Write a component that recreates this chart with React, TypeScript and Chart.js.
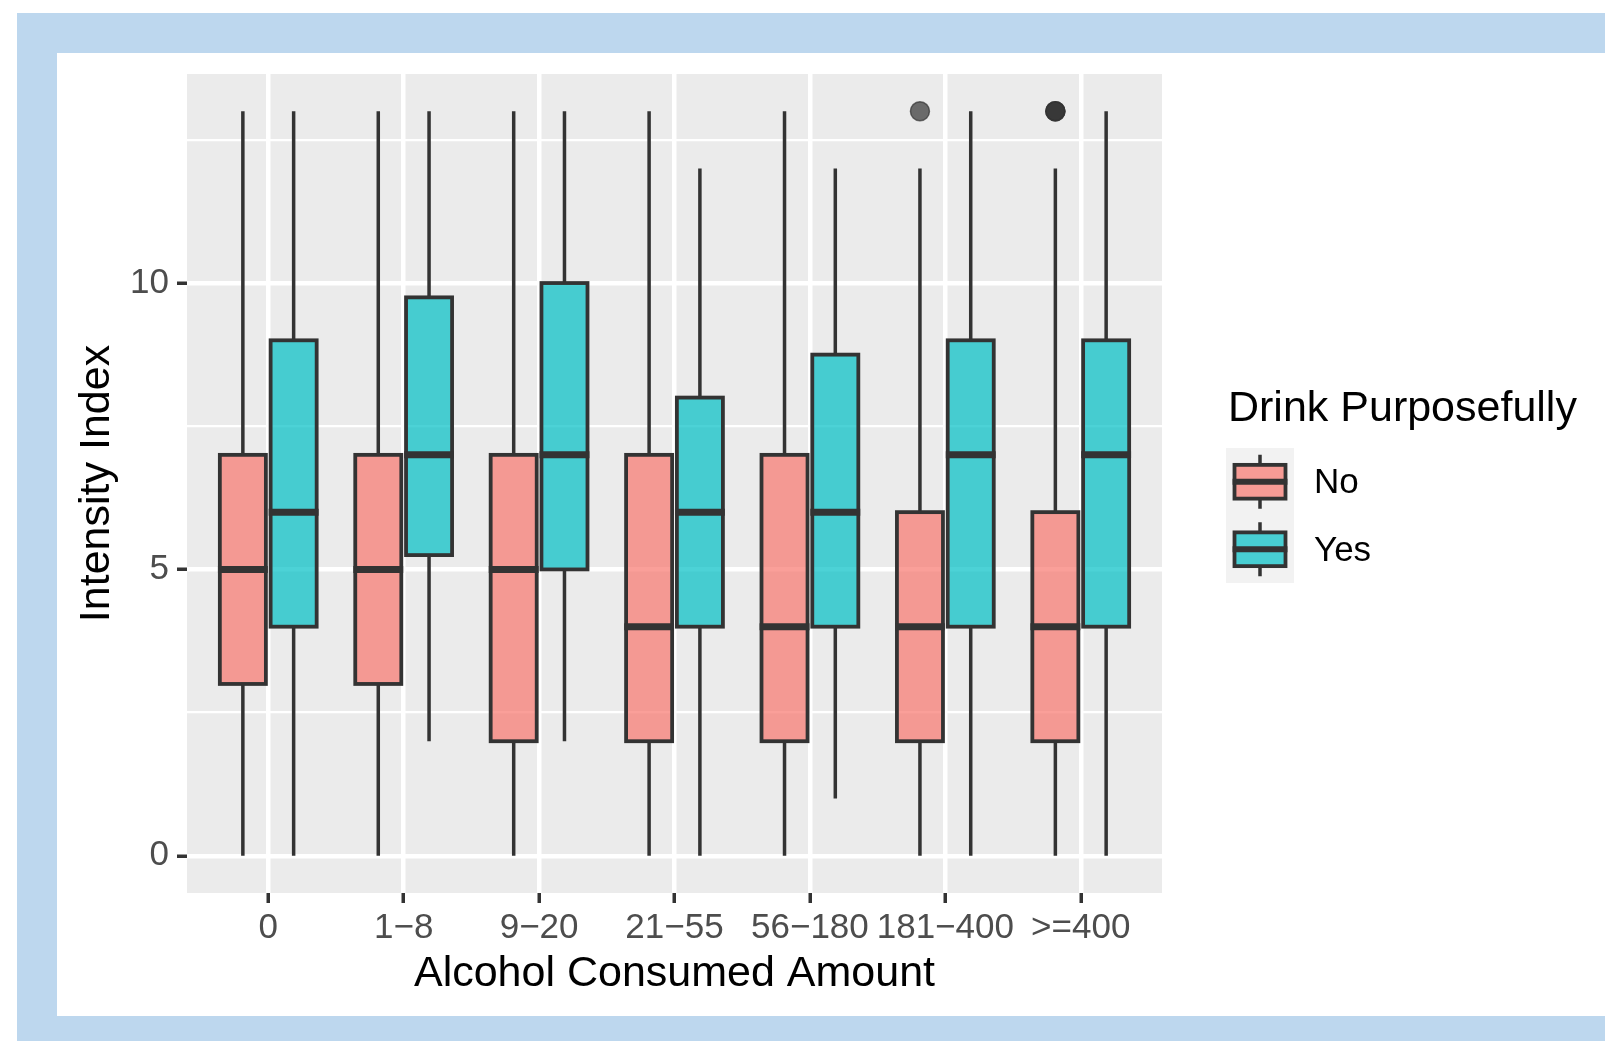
import { useEffect, useRef } from "react";
import { Chart, registerables } from "chart.js";

Chart.register(...registerables);

// Alcohol consumption bands on the x axis
const categories = ["0", "1−8", "9−20", "21−55", "56−180", "181−400", ">=400"];
const groups = ["No", "Yes"];

// Five-number summaries, "No" group
const noMin = [0, 0, 0, 0, 0, 0, 0];
const noQ1 = [3, 3, 2, 2, 2, 2, 2];
const noMedian = [5, 5, 5, 4, 4, 4, 4];
const noQ3 = [7, 7, 7, 7, 7, 6, 6];
const noMax = [13, 13, 13, 13, 13, 12, 12];

// Five-number summaries, "Yes" group
const yesMin = [0, 2, 2, 0, 1, 0, 0];
const yesQ1 = [4, 5.25, 5, 4, 4, 4, 4];
const yesMedian = [6, 7, 7, 6, 6, 7, 7];
const yesQ3 = [9, 9.75, 10, 8, 8.75, 9, 9];
const yesMax = [13, 13, 13, 12, 12, 13, 13];

// Outlying observations of the "No" group (overlapping points stack up darker)
const noOutlierCategory = ["181−400", ">=400", ">=400", ">=400"];
const noOutlierValue = [13, 13, 13, 13];

const yMajorTicks = [0, 5, 10];
const yMinorTicks = [2.5, 7.5, 12.5];

const FONT = "'Liberation Sans', Arial, Helvetica, sans-serif";
const PANEL = "#EBEBEB";
const LINE = "#333333";
const FILLS = ["rgba(248,118,109,0.7)", "rgba(0,191,196,0.7)"];
const DODGE = 0.375; // spacing between the two boxes of a category
const BOX_W = 0.34; // drawn width of each box, category units
const BOX_LW = 3.8;
const MEDIAN_LW = 7;
const WHISKER_LW = 3.5;
const TEXT_SIZE = 35;
const TITLE_SIZE = 43;

const series = [
  { min: noMin, q1: noQ1, med: noMedian, q3: noQ3, max: noMax },
  { min: yesMin, q1: yesQ1, med: yesMedian, q3: yesQ3, max: yesMax },
];

const groupOffset = (gi: number) => (gi - (groups.length - 1) / 2) * DODGE;

function drawBox(
  ctx: CanvasRenderingContext2D,
  left: number,
  right: number,
  yMin: number,
  yQ1: number,
  yMed: number,
  yQ3: number,
  yMax: number,
  fill: string,
  boxLw: number,
  medLw: number,
  whiskerLw: number
) {
  const cx = (left + right) / 2;
  ctx.strokeStyle = LINE;
  ctx.lineCap = "butt";
  ctx.lineWidth = whiskerLw;
  ctx.beginPath();
  ctx.moveTo(cx, yQ3);
  ctx.lineTo(cx, yMax);
  ctx.moveTo(cx, yQ1);
  ctx.lineTo(cx, yMin);
  ctx.stroke();

  ctx.fillStyle = fill;
  ctx.fillRect(left, yQ3, right - left, yQ1 - yQ3);
  ctx.lineWidth = boxLw;
  ctx.strokeRect(left, yQ3, right - left, yQ1 - yQ3);

  ctx.lineWidth = medLw;
  ctx.beginPath();
  ctx.moveTo(left - boxLw / 2, yMed);
  ctx.lineTo(right + boxLw / 2, yMed);
  ctx.stroke();
}

const boxPlugin = {
  id: "boxplots",
  beforeDraw(chart: any) {
    const { ctx, chartArea: a } = chart;
    ctx.save();
    ctx.fillStyle = PANEL;
    ctx.fillRect(a.left, a.top, a.right - a.left, a.bottom - a.top);
    ctx.restore();
  },
  beforeDatasetsDraw(chart: any) {
    const { ctx } = chart;
    const xs = chart.scales.x;
    const ys = chart.scales.y;
    ctx.save();
    series.forEach((s, gi) => {
      const off = groupOffset(gi);
      categories.forEach((_, i) => {
        const c = i + 1 + off;
        const left = xs.getPixelForValue(c - BOX_W / 2);
        const right = xs.getPixelForValue(c + BOX_W / 2);
        drawBox(
          ctx,
          left,
          right,
          ys.getPixelForValue(s.min[i]),
          ys.getPixelForValue(s.q1[i]),
          ys.getPixelForValue(s.med[i]),
          ys.getPixelForValue(s.q3[i]),
          ys.getPixelForValue(s.max[i]),
          FILLS[gi],
          BOX_LW,
          MEDIAN_LW,
          WHISKER_LW
        );
      });
    });
    ctx.restore();
  },
  afterDraw(chart: any) {
    // Legend: title, key glyphs and labels
    const { ctx } = chart;
    const keyX = 1169;
    const keyY = 395;
    const keyW = 68;
    const keyH = 67.5;
    ctx.save();
    ctx.fillStyle = "#000000";
    ctx.font = `${TITLE_SIZE}px ${FONT}`;
    ctx.textAlign = "left";
    ctx.textBaseline = "alphabetic";
    ctx.fillText("Drink Purposefully", 1171, 368);

    ctx.fillStyle = "#F2F2F2";
    ctx.fillRect(keyX, keyY, keyW, keyH * groups.length);

    groups.forEach((g, gi) => {
      const top = keyY + gi * keyH;
      drawBox(
        ctx,
        keyX + keyW * 0.125,
        keyX + keyW * 0.875,
        top + keyH * 0.9,
        top + keyH * 0.75,
        top + keyH * 0.5,
        top + keyH * 0.25,
        top + keyH * 0.1,
        FILLS[gi],
        BOX_LW,
        MEDIAN_LW * 0.85,
        WHISKER_LW
      );
      ctx.fillStyle = "#000000";
      ctx.font = `${TEXT_SIZE}px ${FONT}`;
      ctx.textBaseline = "middle";
      ctx.fillText(g, 1257, top + keyH / 2 + 2);
    });
    ctx.restore();
  },
};

export default function App() {
  const ref = useRef<HTMLCanvasElement>(null);

  useEffect(() => {
    const canvas = ref.current;
    if (!canvas) return;

    const outlierData = noOutlierCategory.map((c, k) => ({
      x: categories.indexOf(c) + 1 + groupOffset(0),
      y: noOutlierValue[k],
    }));

    const chart = new Chart(canvas, {
      type: "scatter",
      data: {
        datasets: [
          {
            label: "No outliers",
            data: outlierData,
            pointRadius: 9.5,
            pointHoverRadius: 9.5,
            pointBorderWidth: 1.5,
            pointBackgroundColor: "rgba(51,51,51,0.7)",
            pointBorderColor: "rgba(51,51,51,0.7)",
          },
        ],
      },
      options: {
        animation: false,
        responsive: false,
        devicePixelRatio: 1,
        events: [],
        layout: { padding: { left: 0, top: 21, right: 443, bottom: 0 } },
        plugins: {
          legend: { display: false },
          tooltip: { enabled: false },
        },
        scales: {
          x: {
            type: "linear",
            min: 0.4,
            max: 7.6,
            afterBuildTicks: (scale: any) => {
              scale.ticks = categories.map((_, i) => ({ value: i + 1 }));
            },
            afterFit: (scale: any) => {
              scale.height = 123;
              scale.paddingLeft = 0;
              scale.paddingRight = 0;
              scale.paddingTop = 0;
              scale.paddingBottom = 0;
            },
            border: { display: false },
            grid: {
              color: "#FFFFFF",
              lineWidth: 4.5,
              drawTicks: true,
              tickLength: 10,
              tickWidth: 3.5,
              tickColor: LINE,
            },
            ticks: {
              autoSkip: false,
              maxRotation: 0,
              minRotation: 0,
              padding: 4,
              color: "#4D4D4D",
              font: { family: FONT, size: TEXT_SIZE, lineHeight: 1.2 },
              callback: (v: any) => categories[Math.round(Number(v)) - 1] ?? "",
            },
            title: {
              display: true,
              text: "Alcohol Consumed Amount",
              color: "#000000",
              font: { family: FONT, size: TITLE_SIZE, lineHeight: 1.2 },
              padding: { top: 0, bottom: 16 },
            },
          },
          y: {
            type: "linear",
            min: -0.65,
            max: 13.65,
            afterBuildTicks: (scale: any) => {
              scale.ticks = [...yMajorTicks, ...yMinorTicks]
                .sort((a, b) => a - b)
                .map((v) => ({ value: v }));
            },
            afterFit: (scale: any) => {
              scale.width = 130;
              scale.paddingLeft = 0;
              scale.paddingRight = 0;
              scale.paddingTop = 0;
              scale.paddingBottom = 0;
            },
            border: { display: false },
            grid: {
              color: "#FFFFFF",
              lineWidth: (c: any) => (c.tick && yMajorTicks.includes(c.tick.value) ? 4.5 : 2.2),
              drawTicks: true,
              tickLength: 10,
              tickWidth: 3.5,
              tickColor: (c: any) =>
                c.tick && yMajorTicks.includes(c.tick.value) ? LINE : "rgba(0,0,0,0)",
            },
            ticks: {
              padding: 8,
              color: "#4D4D4D",
              font: { family: FONT, size: TEXT_SIZE },
              callback: (v: any) => (yMajorTicks.includes(Number(v)) ? String(v) : ""),
            },
            title: {
              display: true,
              text: "Intensity Index",
              color: "#000000",
              font: { family: FONT, size: TITLE_SIZE, lineHeight: 1.2 },
              padding: { top: 14, bottom: 0 },
            },
          },
        },
      },
      plugins: [boxPlugin],
    });

    return () => chart.destroy();
  }, []);

  return (
    <div
      style={{
        position: "fixed",
        left: 0,
        top: 0,
        width: 1605,
        height: 1041,
        background: "#FFFFFF",
        overflow: "hidden",
      }}
    >
      <div
        style={{
          position: "absolute",
          left: 17,
          top: 13,
          right: 0,
          bottom: 0,
          background: "#BDD7EE",
        }}
      />
      <div
        style={{
          position: "absolute",
          left: 57,
          top: 53,
          width: 1548,
          height: 963,
          background: "#FFFFFF",
        }}
      >
        <canvas ref={ref} width={1548} height={963} style={{ display: "block", width: 1548, height: 963 }} />
      </div>
    </div>
  );
}
